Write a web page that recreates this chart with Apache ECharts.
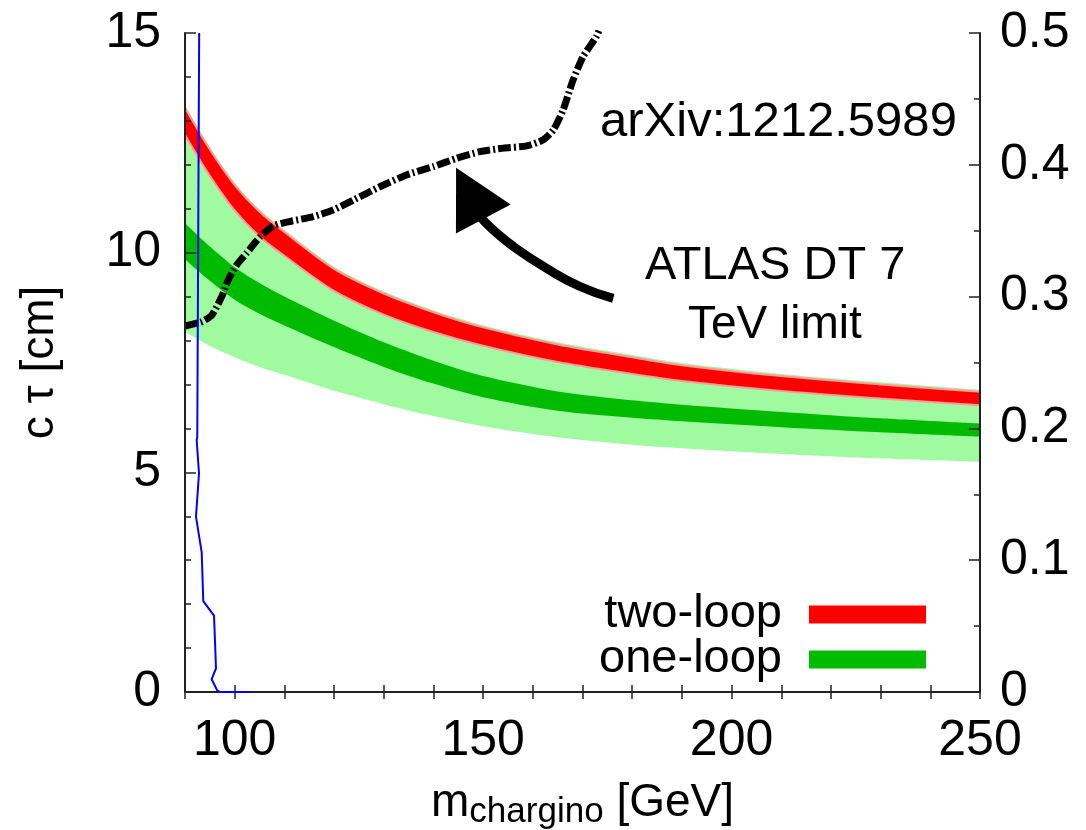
<!DOCTYPE html>
<html>
<head>
<meta charset="utf-8">
<script src="https://cdn.jsdelivr.net/npm/echarts@6/dist/echarts.min.js"></script>
<style>
html,body{margin:0;padding:0;background:#fff;}
#chart{width:1086px;height:830px;}
</style>
</head>
<body>
<div id="chart"></div>
<script>
// ---- data ----
const mass = [90, 95, 100, 105, 110, 120, 130, 140, 150, 165, 180, 190, 210, 230, 250];
const twoLoopLow  = [12.68, 11.75, 10.96, 10.37, 9.93, 9.13, 8.59, 8.195, 7.88, 7.51, 7.24, 7.08, 6.85, 6.68, 6.525];
const twoLoopHigh = [13.30, 12.35, 11.54, 10.93, 10.47, 9.63, 9.07, 8.645, 8.30, 7.91, 7.62, 7.44, 7.19, 7.00, 6.835];
const oneLoopLow  = [9.85, 9.36, 8.93, 8.61, 8.34, 7.85, 7.40, 7.02, 6.71, 6.40, 6.24, 6.16, 6.025, 5.91, 5.81];
const oneLoopHigh = [10.67, 10.14, 9.67, 9.31, 9.00, 8.45, 7.96, 7.54, 7.19, 6.84, 6.64, 6.54, 6.375, 6.23, 6.11];
const oneLoopWideLow  = [8.20, 7.88, 7.62, 7.40, 7.22, 6.86, 6.55, 6.28, 6.05, 5.80, 5.63, 5.55, 5.42, 5.32, 5.24];
const oneLoopWideHigh = [13.36, 12.40, 11.59, 10.98, 10.52, 9.68, 9.12, 8.69, 8.35, 7.96, 7.67, 7.49, 7.24, 7.05, 6.88];

const atlasMass = [90.0, 93.4, 95.4, 97.4, 98.7, 100.4, 102.4, 105.1, 107.8, 111.1, 115.8, 119.8, 123.9, 129.2, 134.6, 140.0, 144.7, 149.4, 154.1, 158.8, 162.1, 164.1, 166.1, 168.1, 170.1, 172.8, 173.3];
const atlasCtau = [8.33, 8.43, 8.58, 9.00, 9.38, 9.72, 9.99, 10.36, 10.61, 10.71, 10.82, 10.97, 11.20, 11.50, 11.77, 11.96, 12.15, 12.30, 12.38, 12.43, 12.57, 12.79, 13.25, 13.93, 14.46, 14.92, 15.05];

const blueMass = [92.85, 92.47, 92.35, 92.82, 92.21, 93.36, 93.68, 95.84, 96.24, 95.37, 96.5, 97.04, 102.9];
const blueVal  = [0.5, 0.194, 0.191, 0.166, 0.133, 0.106, 0.069, 0.058, 0.018, 0.0097, 0.001, 0, 0];

const arrowMass = [176.2, 169.5, 162.8, 156.1, 152.0, 149.4, 147.7];
const arrowCtau = [8.96, 9.23, 9.64, 10.14, 10.52, 10.82, 11.1];
const arrowHead = [147.3, 11.35];

const yLeftTicks = {min: 0, max: 15, interval: 5};
const yRightTicks = {min: 0, max: 0.5, interval: 0.1};
const xTicks = {min: 90, max: 250, interval: 10};

// ---- build ----
const pts = (xs, ys) => xs.map((x, i) => [x, ys[i]]);

const FONT = 'Liberation Sans, Arial, Helvetica, sans-serif';
const LIGHT = '#a0faa0', DARK = '#00bb00', RED = '#ff0000', PINK = '#ff9a9a';

// bands are painted as nested filled areas (each curve filled down to the axis),
// from the highest curve to the lowest one
function fillCurve(name, ys, fill, edge) {
  return {
    type: 'line', name: name, data: pts(mass, ys),
    symbol: 'none', smooth: 0.3, silent: true,
    lineStyle: edge ? {color: edge, width: 2} : {width: 0, opacity: 0},
    areaStyle: {color: fill, opacity: 1, origin: 'start'},
    itemStyle: {color: fill},
    z: 2
  };
}

const series = [
  fillCurve('one-loop-wide-high', oneLoopWideHigh, LIGHT, null),
  fillCurve('two-loop', twoLoopHigh, RED, PINK),
  fillCurve('two-loop-low', twoLoopLow, LIGHT, PINK),
  fillCurve('one-loop', oneLoopHigh, DARK, null),
  fillCurve('one-loop-low', oneLoopLow, LIGHT, null),
  fillCurve('one-loop-wide-low', oneLoopWideLow, '#ffffff', null),
  {
    type: 'line', name: 'blue', yAxisIndex: 1, data: pts(blueMass, blueVal),
    symbol: 'none', lineStyle: {color: '#0000ff', width: 2}, z: 12
  },
  {
    type: 'line', name: 'ATLAS', data: pts(atlasMass, atlasCtau),
    symbol: 'none', smooth: 0.2,
    lineStyle: {color: '#000', width: 7, type: [13, 3, 2, 3], cap: 'butt'}, z: 4
  },
  {
    type: 'line', name: 'arrow', data: pts(arrowMass, arrowCtau),
    symbol: 'none', smooth: 0.5, lineStyle: {color: '#000', width: 9}, z: 4
  },
  {
    type: 'scatter', name: 'arrowhead', data: [arrowHead],
    symbol: 'triangle', symbolSize: [62, 58], symbolRotate: 28,
    itemStyle: {color: '#000', opacity: 1}, z: 4
  }
];

const axisLineStyle = {show: true, lineStyle: {color: '#222', width: 2}};
const tickStyle = {color: '#222', width: 1.5};

const option = {
  animation: false,
  backgroundColor: '#fff',
  textStyle: {fontFamily: FONT},
  grid: {left: 185, right: 106, top: 33, bottom: 138, containLabel: false, outerBoundsMode: 'none'},
  legend: {
    orient: 'vertical', right: 155, top: 586, align: 'right',
    itemWidth: 117, itemHeight: 18, itemGap: -2,
    selectedMode: false,
    textStyle: {fontSize: 47, fontFamily: FONT, color: '#000', lineHeight: 40, padding: [0, 22, 0, 0]},
    data: [
      {name: 'two-loop', icon: 'rect', itemStyle: {color: RED}},
      {name: 'one-loop', icon: 'rect', itemStyle: {color: DARK}}
    ]
  },
  xAxis: [
    {
      type: 'value', position: 'bottom', min: xTicks.min, max: xTicks.max, interval: xTicks.interval,
      z: 10,
      axisLine: axisLineStyle,
      axisTick: {show: true, inside: true, length: 7, lineStyle: tickStyle},
      splitLine: {show: false},
      axisLabel: {
        fontSize: 50, color: '#000', fontFamily: FONT, margin: 24,
        formatter: v => (v % 50 === 0 ? String(v) : '')
      },
      name: '{m|m}{s|chargino}{g| [GeV]}',
      nameLocation: 'middle', nameGap: 88,
      nameTextStyle: {
        color: '#000', fontFamily: FONT,
        rich: {
          m: {fontSize: 46, fontFamily: FONT, color: '#000', lineHeight: 50, verticalAlign: 'top'},
          s: {fontSize: 35, fontFamily: FONT, color: '#000', lineHeight: 50, verticalAlign: 'bottom'},
          g: {fontSize: 46, fontFamily: FONT, color: '#000', lineHeight: 50, verticalAlign: 'top'}
        }
      }
    },
    {
      type: 'value', position: 'top', min: xTicks.min, max: xTicks.max, interval: xTicks.interval,
      z: 10,
      axisLine: axisLineStyle,
      axisTick: {show: true, inside: true, length: 7, lineStyle: tickStyle},
      axisLabel: {show: false}, splitLine: {show: false}
    }
  ],
  yAxis: [
    {
      type: 'value', position: 'left', min: yLeftTicks.min, max: yLeftTicks.max, interval: yLeftTicks.interval,
      z: 10,
      axisLine: axisLineStyle,
      axisTick: {show: true, inside: true, length: 11, lineStyle: tickStyle},
      minorTick: {show: true, splitNumber: 5, length: 6, lineStyle: tickStyle},
      splitLine: {show: false},
      axisLabel: {fontSize: 50, color: '#000', fontFamily: FONT, margin: 24},
      name: 'c τ [cm]', nameLocation: 'middle', nameGap: 122, nameRotate: 90,
      nameTextStyle: {fontSize: 46, color: '#000', fontFamily: FONT}
    },
    {
      type: 'value', position: 'right', min: yRightTicks.min, max: yRightTicks.max, interval: yRightTicks.interval,
      z: 10,
      axisLine: axisLineStyle,
      axisTick: {show: true, inside: true, length: 11, lineStyle: tickStyle},
      minorTick: {show: true, splitNumber: 2, length: 6, lineStyle: tickStyle},
      splitLine: {show: false},
      axisLabel: {fontSize: 50, color: '#000', fontFamily: FONT, margin: 20}
    }
  ],
  graphic: [
    {type: 'text', left: 600, top: 98, style: {text: 'arXiv:1212.5989', fontSize: 49, fontFamily: FONT, fill: '#000'}, z: 10},
    {type: 'text', left: 645, top: 243, style: {text: 'ATLAS DT 7', fontSize: 47, fontFamily: FONT, fill: '#000'}, z: 10},
    {type: 'text', left: 688, top: 302, style: {text: 'TeV limit', fontSize: 46, fontFamily: FONT, fill: '#000'}, z: 10}
  ],
  series: series
};

const chart = echarts.init(document.getElementById('chart'), null, {renderer: 'canvas'});
chart.setOption(option);
</script>
</body>
</html>
